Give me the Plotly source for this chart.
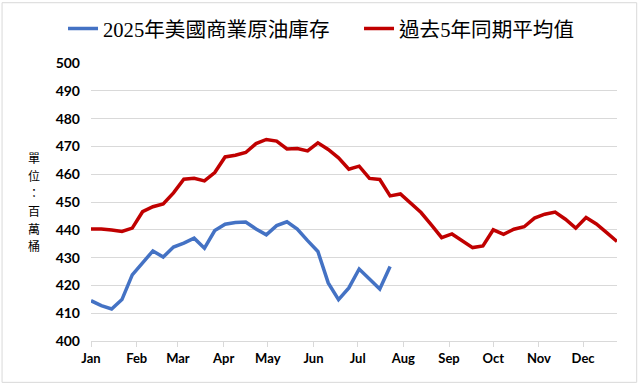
import pandas as pd
import plotly.graph_objects as go

# Weekly dates (Friday week endings, 2025)
week_dates = pd.date_range("2025-01-03", periods=52, freq="7D")

series_2025_name = "2025年美國商業原油庫存"
series_avg_name = "過去5年同期平均值"

stocks_2025 = [414.5, 412.7, 411.5, 414.9, 423.8, 428.2, 432.4, 430.2, 433.8, 435.2,
               437.0, 433.4, 439.7, 442.0, 442.6, 442.8, 440.3, 438.2, 441.5, 442.9,
               440.3, 436.1, 432.2, 420.9, 414.9, 419.1, 425.9, 422.3, 418.7, 426.8]

avg_5yr = [440.3, 440.3, 439.9, 439.4, 440.6, 446.5, 448.3, 449.3, 453.3, 458.2,
           458.5, 457.6, 460.6, 466.2, 466.8, 467.8, 471.0, 472.5, 471.9, 469.1,
           469.2, 468.4, 471.3, 468.9, 465.9, 461.8, 462.9, 458.5, 458.1, 452.2,
           452.9, 449.7, 446.2, 441.8, 437.2, 438.5, 436.0, 433.6, 434.2, 440.0,
           438.4, 440.2, 441.1, 444.2, 445.6, 446.4, 443.8, 440.6, 444.4, 442.1,
           439.0, 435.8]

y_title_chars = ["單", "位", "：", "百", "萬", "桶"]
y_ticks = [400, 410, 420, 430, 440, 450, 460, 470, 480, 490, 500]

fig = go.Figure()
fig.add_trace(go.Scatter(x=week_dates[:len(stocks_2025)], y=stocks_2025, mode="lines",
                         name=series_2025_name, line=dict(color="#4472C4", width=3.5)))
fig.add_trace(go.Scatter(x=week_dates, y=avg_5yr, mode="lines",
                         name=series_avg_name, line=dict(color="#C00000", width=3.5)))

L, R, T, B = 91, 640 - 617.3, 62.5, 386 - 341.5
W = 640 - L - R
H = 386 - T - B

fig.update_layout(
    width=640, height=386,
    margin=dict(l=L, r=R, t=T, b=B, pad=0, autoexpand=False),
    paper_bgcolor="white", plot_bgcolor="white",
    showlegend=True,
    legend=dict(orientation="h", x=(63 - L) / W, xanchor="left",
                y=1 + (T - 28) / H, yanchor="middle",
                font=dict(family="Liberation Serif, Noto Sans CJK TC", size=20.6, color="#000000"),
                itemwidth=30, entrywidth=251, entrywidthmode="pixels",
                tracegroupgap=0, bgcolor="rgba(0,0,0,0)"),
    font=dict(family="Lato", color="#000000"),
)
fig.update_xaxes(
    type="date", range=[week_dates[0], week_dates[-1]], automargin=False,
    tick0="2025-01-03", dtick="M1", tickformat="%b",
    showgrid=False, showline=True, linecolor="#d9d9d9", linewidth=1,
    ticks="outside", ticklen=5, tickcolor="#d9d9d9",
    tickfont=dict(family="Lato", size=13, color="#000000", weight="bold"),
)
fig.update_yaxes(
    range=[400, 500], tickvals=y_ticks, automargin=False,
    showgrid=True, gridcolor="#d9d9d9", gridwidth=1,
    showline=False, zeroline=False, ticks="",
    ticklabelstandoff=10,
    tickfont=dict(family="Lato", size=14, color="#000000", weight="bold"),
)
for i, ch in enumerate(y_title_chars):
    fig.add_annotation(text=ch, xref="paper", yref="paper",
                       x=(34 - L) / W, y=(341.5 - (157.5 + i * 17.7)) / H,
                       xanchor="center", yanchor="middle",
                       showarrow=False, align="center", borderpad=0,
                       font=dict(family="Noto Sans CJK TC", size=12, color="#000000"))
fig.add_shape(type="rect", xref="paper", yref="paper",
              x0=(2 - L) / W, x1=(637 - L) / W,
              y0=(341.5 - 383) / H, y1=(341.5 - 2) / H,
              line=dict(color="#d9d9d9", width=1), fillcolor="rgba(0,0,0,0)", layer="below")

fig.write_html("out.html", config={"displayModeBar": False},
               post_script="document.body.style.margin='0';document.body.style.overflow='hidden';")
